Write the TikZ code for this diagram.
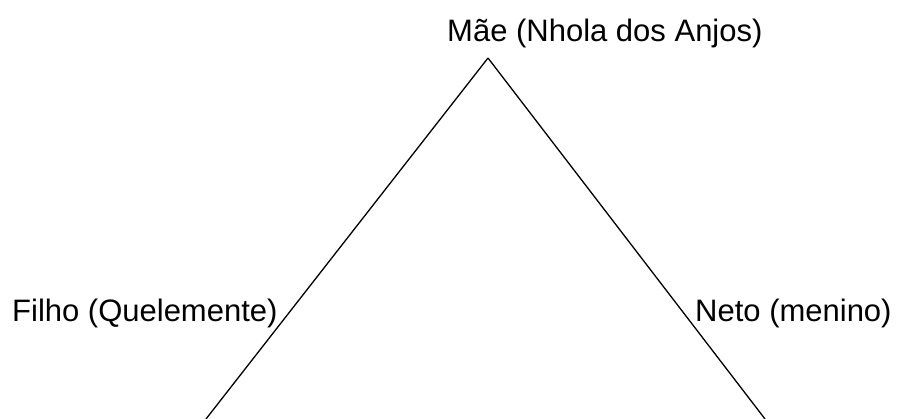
\documentclass[tikz,border=0pt]{standalone}
\usepackage{fontspec}
\setmainfont{Liberation Sans}
\usetikzlibrary{positioning}

\begin{document}
\begin{tikzpicture}[
  x=1pt, y=-1pt,
  every node/.style={font=\fontsize{31}{36}\selectfont},
  person/.style={inner sep=0pt, anchor=base west},
  edge/.style={line width=1.3pt, black}
]
\useasboundingbox (0,0) rectangle (898,419);
\coordinate (apex) at (488,58);
\coordinate (left) at (206,419);
\coordinate (right) at (765,419);

\node[person] (mae) at (447,42) {Mãe (Nhola dos Anjos)};
\node[person] (filho) at (12,322) {Filho (Quelemente)};
\node[person] (neto) at (695,322) {Neto (menino)};

\draw[edge] (apex) -- (left);
\draw[edge] (apex) -- (right);
\end{tikzpicture}
\end{document}
